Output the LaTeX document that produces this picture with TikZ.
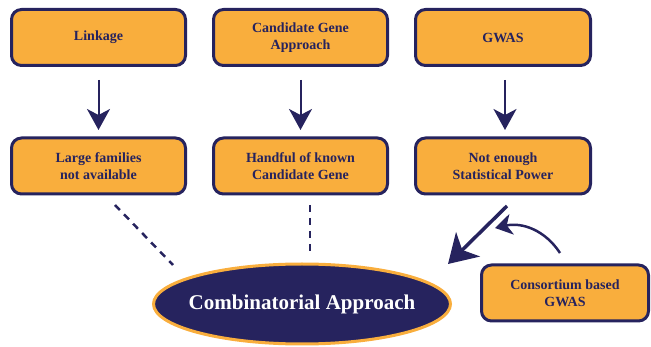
\documentclass[tikz,border=0pt]{standalone}
\usepackage{fontspec}
\setmainfont{Liberation Serif}
\usetikzlibrary{arrows.meta,shapes.geometric}
\definecolor{navy}{HTML}{26235E}
\definecolor{gold}{HTML}{F9AE3D}
\tikzset{
  box/.style={draw=navy, fill=gold, line width=3pt, rounded corners=10pt,
    minimum width=174pt, minimum height=56pt, align=center,
    font=\fontsize{14}{17}\selectfont\bfseries, text=navy, inner sep=2pt},
  down/.style={draw=navy, line width=2pt, -{Stealth[length=21pt,width=23pt,inset=6pt]}},
  dashline/.style={draw=navy, line width=2.5pt, dash pattern=on 7pt off 6pt},
}
\begin{document}
\begin{tikzpicture}[x=1pt,y=-1pt]
\useasboundingbox (0,0) rectangle (651,347);
\node[box] (a1) at (98.5,37.5) {Linkage};
\node[box] (b1) at (300.5,37.5) {Candidate Gene\\Approach};
\node[box, minimum width=175pt] (c1) at (503,37.5) {GWAS};
\node[box] (a2) at (98.5,166) {Large families\\not available};
\node[box] (b2) at (300.5,166) {Handful of known\\Candidate Gene};
\node[box, minimum width=175pt] (c2) at (503,166) {Not enough\\Statistical Power};
\node[box, minimum width=167pt] (d) at (565,293) {Consortium based\\GWAS};
\node[ellipse, draw=gold, fill=navy, line width=3pt, minimum width=297pt, minimum height=80pt,
  inner sep=0pt] (e) at (302,304) {};
\node[text=white, font=\fontsize{21}{24}\selectfont\bfseries] (et) at (e.center) {Combinatorial Approach};
\coordinate (a1s) at (98.5,80);
\coordinate (b1s) at (300.5,80);
\coordinate (c1s) at (505,80);
\coordinate (a2n) at (98.5,130);
\coordinate (b2n) at (300.5,130);
\coordinate (c2n) at (505,130);
\draw[down] (a1s) -- (a2n);
\draw[down] (b1s) -- (b2n);
\draw[down] (c1s) -- (c2n);
\coordinate (l1) at (115,205);
\coordinate (l2) at (173,265);
\coordinate (m1) at (310,205);
\coordinate (m2) at (310,252);
\draw[dashline] (l1) -- (l2);
\draw[dashline] (m1) -- (m2);
\coordinate (g1) at (507,206);
\coordinate (g2) at (448,264);
\draw[draw=navy, line width=3.5pt, -{Stealth[length=28pt,width=34pt,inset=8pt]}] (g1) -- (g2);
\coordinate (k1) at (560,253);
\coordinate (k2) at (495,228);
\draw[draw=navy, line width=2.5pt, -{Stealth[length=17pt,width=21pt,inset=5pt]}] (k1) .. controls (545,230) and (522,222) .. (k2);
\end{tikzpicture}
\end{document}
